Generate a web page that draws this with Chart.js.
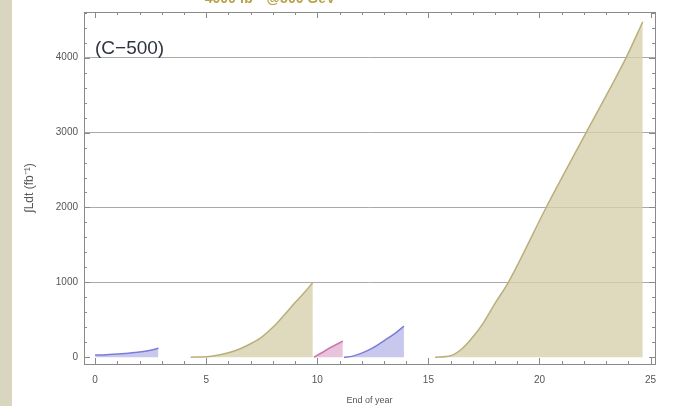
<!DOCTYPE html>
<html>
<head>
<meta charset="utf-8">
<script src="https://cdn.jsdelivr.net/npm/chart.js@4"></script>
<style>
  html, body { margin: 0; padding: 0; background: #fff; }
  #wrap { width: 700px; height: 406px; }
</style>
</head>
<body>
<div id="wrap"><canvas id="lumiChart" width="700" height="406"></canvas></div>
<script>
// Werte
const blue1X = [0, 0.5, 1, 1.5, 2, 2.5, 2.85];
const blue1Y = [30, 35, 45, 55, 70, 95, 120];
const olive1X = [4.3, 5, 5.5, 6, 6.5, 7, 7.5, 8, 8.5, 9, 9.5, 9.8];
const olive1Y = [0, 8, 28, 60, 110, 180, 270, 400, 560, 730, 890, 1000];
const pinkX = [9.85, 10.2, 10.6, 11.15];
const pinkY = [0, 60, 130, 215];
const blue2X = [11.2, 11.6, 12, 12.5, 13, 13.5, 13.9];
const blue2Y = [0, 15, 55, 125, 220, 320, 415];
const olive2X = [15.3, 16, 16.5, 17, 17.5, 18, 18.6, 20.3, 22.1, 23.9, 24.65];
const olive2Y = [0, 20, 110, 270, 470, 720, 1000, 2000, 3000, 4000, 4480];

const xTickLabels = [0, 5, 10, 15, 20, 25];
const yTickLabels = [0, 1000, 2000, 3000, 4000];

const topTitle = "4000 fb\u207B\u00B9 @500 GeV";
const scenario = "(C\u2212500)";
const xTitle = "End of year";
const yTitle = "\u222BLdt (fb\u207B\u00B9)";

const pts = (xs, ys) => xs.map((x, i) => ({ x: x, y: ys[i] }));

const olive = { line: "#b9af79", fill: "rgba(214,207,172,0.78)" };
const blue = { line: "#7c7cd8", fill: "rgba(190,190,236,0.85)" };
const pink = { line: "#cc78b0", fill: "rgba(228,184,214,0.85)" };

function area(data, c) {
    return {
        data: data,
        borderColor: c.line,
        backgroundColor: c.fill,
        borderWidth: 1.5,
        fill: "origin",
        pointRadius: 0,
        tension: 0.4,
        cubicInterpolationMode: "monotone"
    };
}

// Hintergrundstreifen, Titel, Rahmen mit Innen-Ticks
const decor = {
    id: "decor",
    beforeDraw(chart) {
        const c = chart.ctx;
        c.save();
        c.fillStyle = "#d9d6bf";
        c.fillRect(0, 0, 12, chart.height);
        c.restore();
    },
    afterDraw(chart) {
        const c = chart.ctx;
        const a = chart.chartArea;
        const xs = chart.scales.x, ys = chart.scales.y;
        c.save();
        c.strokeStyle = "#8a8a8a";
        c.lineWidth = 1;
        c.strokeRect(a.left + 0.5, a.top + 0.5, a.right - a.left, a.bottom - a.top);
        c.beginPath();
        for (let v = 0; v <= 25; v++) {
            const p = Math.round(xs.getPixelForValue(v)) + 0.5;
            const len = v % 5 === 0 ? 6 : 3;
            c.moveTo(p, a.bottom); c.lineTo(p, a.bottom - len);
            c.moveTo(p, a.top); c.lineTo(p, a.top + len);
        }
        for (let v = 0; v <= 4600; v += 200) {
            const p = Math.round(ys.getPixelForValue(v)) + 0.5;
            const len = v % 1000 === 0 ? 6 : 3;
            c.moveTo(a.left, p); c.lineTo(a.left + len, p);
            c.moveTo(a.right, p); c.lineTo(a.right - len, p);
        }
        c.stroke();

        c.fillStyle = "#b7a247";
        c.font = "bold 14px 'Liberation Sans', Arial, sans-serif";
        c.textAlign = "center";
        c.textBaseline = "bottom";
        c.fillText(topTitle, 270, 6);

        c.fillStyle = "#2f3440";
        c.font = "19px 'Liberation Sans', Arial, sans-serif";
        c.textAlign = "left";
        c.textBaseline = "middle";
        c.fillText(scenario, a.left + 11, 49);
        c.restore();
    }
};

const axisFont = { size: 10, family: "'Liberation Sans', Arial, sans-serif" };

const ctx = document.getElementById("lumiChart").getContext("2d");
new Chart(ctx, {
    type: "line",
    data: {
        datasets: [
            area(pts(blue1X, blue1Y), blue),
            area(pts(olive1X, olive1Y), olive),
            area(pts(pinkX, pinkY), pink),
            area(pts(blue2X, blue2Y), blue),
            area(pts(olive2X, olive2Y), olive)
        ]
    },
    options: {
        responsive: false,
        animation: false,
        layout: { padding: { top: 8, right: 45, left: 0, bottom: 0 } },
        plugins: {
            legend: { display: false },
            tooltip: { enabled: false }
        },
        scales: {
            x: {
                type: "linear",
                min: -0.5,
                max: 25.2,
                afterBuildTicks: s => { s.ticks = xTickLabels.map(v => ({ value: v })); },
                afterFit: s => { s.height = 42; },
                grid: { display: false, drawTicks: false },
                border: { display: false },
                ticks: {
                    color: "#555",
                    font: axisFont,
                    padding: 10,
                    maxRotation: 0,
                    callback: v => String(v)
                },
                title: {
                    display: true,
                    text: xTitle,
                    color: "#555",
                    font: { size: 9, family: "'Liberation Sans', Arial, sans-serif" },
                    padding: { top: 2, bottom: 0 }
                }
            },
            y: {
                min: -90,
                max: 4610,
                afterBuildTicks: s => { s.ticks = yTickLabels.map(v => ({ value: v })); },
                afterFit: s => { s.width = 84; },
                grid: {
                    drawTicks: false,
                    color: ctx => ctx.tick && ctx.tick.value > 0 ? "#a9a9a9" : "rgba(0,0,0,0)"
                },
                border: { display: false },
                ticks: {
                    color: "#555",
                    font: axisFont,
                    padding: 6,
                    callback: v => String(v)
                },
                title: {
                    display: true,
                    text: yTitle,
                    color: "#555",
                    font: { size: 12, family: "'Liberation Sans', Arial, sans-serif" },
                    padding: { top: 22, bottom: 0 }
                }
            }
        }
    },
    plugins: [decor]
});
</script>
</body>
</html>
